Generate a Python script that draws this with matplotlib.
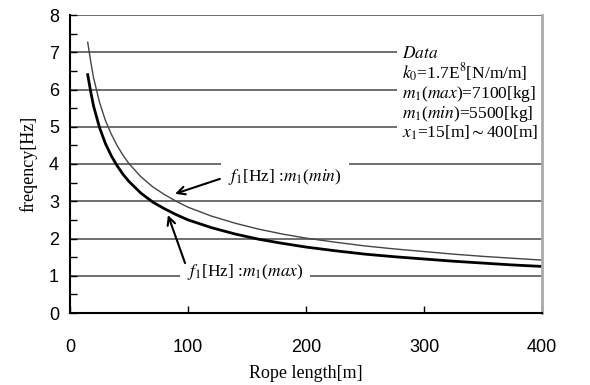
import numpy as np
import matplotlib.pyplot as plt

plt.rcParams['mathtext.fontset'] = 'stix'

# rope length [m]
rope_len = [15, 17.5, 20, 25, 30, 35, 40, 45, 50, 60, 70, 80, 90, 100, 120, 140, 160,
            180, 200, 225, 250, 275, 300, 325, 350, 375, 400]
# f1 [Hz] with m1(max)=7100 kg
f_max = [6.4, 5.95, 5.55, 4.98, 4.55, 4.22, 3.95, 3.72, 3.53, 3.22, 2.98, 2.8, 2.64, 2.5,
         2.29, 2.12, 1.98, 1.87, 1.77, 1.67, 1.58, 1.51, 1.45, 1.39, 1.34, 1.29, 1.25]
# f1 [Hz] with m1(min)=5500 kg
f_min = [7.27, 6.76, 6.31, 5.66, 5.17, 4.8, 4.49, 4.23, 4.01, 3.66, 3.39, 3.18, 3.0, 2.84,
         2.6, 2.41, 2.25, 2.12, 2.01, 1.9, 1.8, 1.72, 1.65, 1.58, 1.52, 1.47, 1.42]

serif = 'Liberation Serif'
sans = 'Liberation Sans'

fig = plt.figure(figsize=(5.9, 3.85), dpi=100)
ax = fig.add_axes([70/590, 1 - 313/385, 472/590, 298/385])

for yv in range(1, 9):
    ax.axhline(yv, color='#555555', lw=1.2, zorder=1)

ax.plot(rope_len, f_min, color='#444444', lw=1.0, zorder=3)
ax.plot(rope_len, f_max, color='black', lw=2.0, zorder=3)

ax.set_xlim(0, 400)
ax.set_ylim(0, 8)
ax.set_xticks([0, 100, 200, 300, 400])
ax.set_yticks(range(0, 9))
ax.set_yticks(np.arange(0.5, 8, 1.0), minor=True)
ax.tick_params(axis='both', direction='in', labelsize=13, pad=8, length=5, width=1)
ax.tick_params(axis='y', which='minor', direction='in', length=5, width=1)
ax.tick_params(axis='x', pad=19)
for lab in ax.get_xticklabels() + ax.get_yticklabels():
    lab.set_fontfamily(sans)

ax.spines['top'].set_visible(False)
ax.spines['right'].set_color('#aaaaaa')
ax.spines['right'].set_linewidth(2)
ax.spines['left'].set_linewidth(1.5)
ax.spines['bottom'].set_linewidth(1.5)
for sp in ax.spines.values():
    sp.set_zorder(8)

ax.set_xlabel('Rope length[m]', fontfamily=serif, fontsize=13, labelpad=6)
ax.set_ylabel('freqency[Hz]', fontfamily=serif, fontsize=13, labelpad=8)

ax.text(281, 7.18,
        '$\\it{Data}$\n'
        '$\\it{k}_0$=1.7E$^8$[N/m/m]\n'
        '$\\it{m}_1$($\\it{max}$)=7100[kg]\n'
        '$\\it{m}_1$($\\it{min}$)=5500[kg]\n'
        '$\\it{x}_1$=15[m]$\\sim$400[m]',
        fontfamily=serif, fontsize=12.5, va='top', ha='left', linespacing=1.0,
        bbox=dict(facecolor='white', edgecolor='none', pad=3), zorder=4)

box = dict(facecolor='white', edgecolor='none', pad=5)
ax.text(134, 3.65, '$\\it{f}_1$[Hz] :$\\it{m}_1$($\\it{min}$)', fontfamily=serif,
        fontsize=12.5, va='center', ha='left', bbox=box, zorder=5)
ax.text(99, 1.1, '$\\it{f}_1$[Hz] :$\\it{m}_1$($\\it{max}$)', fontfamily=serif,
        fontsize=12.5, va='center', ha='left', bbox=box, zorder=5)

arrow = dict(arrowstyle='->', color='black', lw=1.5, shrinkA=0, shrinkB=0, mutation_scale=14)
ax.annotate('', xy=(89, 3.2), xytext=(127, 3.6), arrowprops=arrow, zorder=6)
ax.annotate('', xy=(83, 2.63), xytext=(97.5, 1.34), arrowprops=arrow, zorder=6)

fig.savefig('out.png', dpi=100)
